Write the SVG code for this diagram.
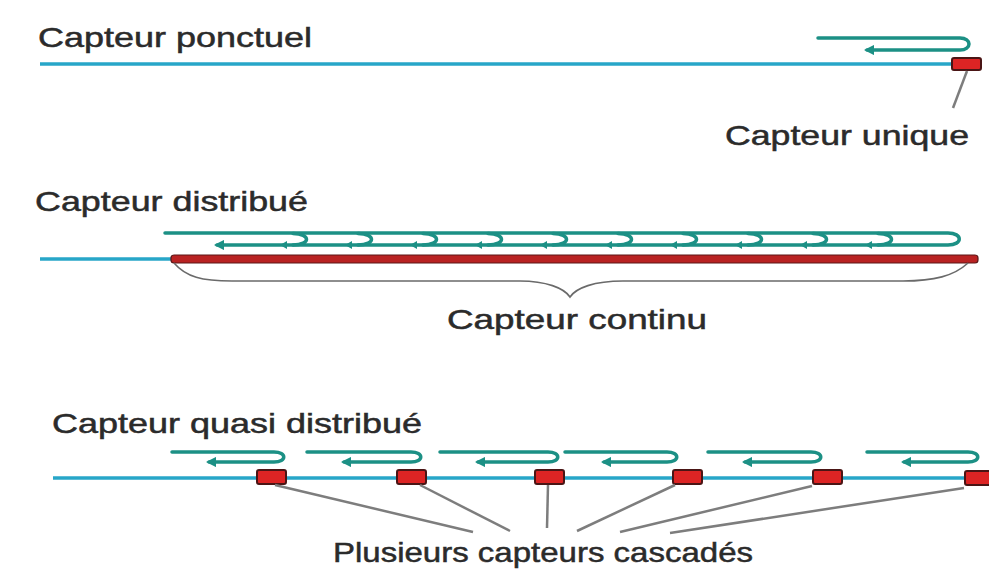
<svg xmlns="http://www.w3.org/2000/svg" width="989" height="570" viewBox="0 0 989 570">
  <defs>
    <style>
      .lbl { font-family: "Liberation Sans", Arial, sans-serif; font-size: 28px; fill: #2b2b2b; stroke: #2b2b2b; stroke-width: 0.5; }
      .fiber { stroke: #27a6c8; stroke-width: 3.5; fill: none; }
      .loop { stroke: #1c9085; stroke-width: 3.5; fill: none; stroke-linecap: round; }
      .lead { stroke: #7d7d7d; stroke-width: 2.5; fill: none; }
      .brace { stroke: #6a6a6a; stroke-width: 1.6; fill: none; }
      .sensor { fill: #dd2424; stroke: #4a1515; stroke-width: 2; }
      .tick { fill: #1c9085; }
    </style>
    <!-- left-pointing head at the end of each return path -->
    <marker id="ah" viewBox="0 0 10 10" refX="7" refY="5" markerWidth="3" markerHeight="3" orient="auto" markerUnits="strokeWidth">
      <path d="M0,0 L10,5 L0,10 Z" fill="#1c9085"/>
    </marker>
  </defs>

  <rect width="989" height="570" fill="#ffffff"/>

  <!-- Point sensor -->
  <g id="ponctuel">
    <text class="lbl" x="38" y="47" textLength="274" lengthAdjust="spacingAndGlyphs">Capteur ponctuel</text>
    <line class="fiber" x1="40" y1="64" x2="954" y2="64"/>
    <path class="loop" d="M818,38 H960 C972,38 972,50 960,50 H867" marker-end="url(#ah)"/>
    <rect class="sensor" x="952" y="58" width="29" height="12" rx="2"/>
  </g>
  <g id="unique">
    <text class="lbl" x="725" y="145" textLength="244" lengthAdjust="spacingAndGlyphs">Capteur unique</text>
  </g>

  <!-- Distributed sensor -->
  <g id="distribue">
    <text class="lbl" x="35" y="211" textLength="273" lengthAdjust="spacingAndGlyphs">Capteur distribué</text>
    <line class="fiber" x1="40" y1="259" x2="174" y2="259"/>
    <path class="loop" d="M165,233 H948 C963,233 963,245 948,245 H217" marker-end="url(#ah)"/>
    <g class="loop">
      <path d="M293,233.5 C311,233.5 311,245 293,245"/>
      <path d="M358,233.5 C376,233.5 376,245 358,245"/>
      <path d="M423,233.5 C441,233.5 441,245 423,245"/>
      <path d="M488,233.5 C506,233.5 506,245 488,245"/>
      <path d="M553,233.5 C571,233.5 571,245 553,245"/>
      <path d="M618,233.5 C636,233.5 636,245 618,245"/>
      <path d="M683,233.5 C701,233.5 701,245 683,245"/>
      <path d="M748,233.5 C766,233.5 766,245 748,245"/>
      <path d="M813,233.5 C831,233.5 831,245 813,245"/>
      <path d="M878,233.5 C896,233.5 896,245 878,245"/>
    </g>
    <g class="tick">
      <path d="M280,245 l7,-4 v8 z"/>
      <path d="M345,245 l7,-4 v8 z"/>
      <path d="M410,245 l7,-4 v8 z"/>
      <path d="M475,245 l7,-4 v8 z"/>
      <path d="M540,245 l7,-4 v8 z"/>
      <path d="M605,245 l7,-4 v8 z"/>
      <path d="M670,245 l7,-4 v8 z"/>
      <path d="M735,245 l7,-4 v8 z"/>
      <path d="M800,245 l7,-4 v8 z"/>
      <path d="M865,245 l7,-4 v8 z"/>
    </g>
    <rect x="171" y="255" width="807" height="8" rx="3" fill="#b92222" stroke="#5c1616" stroke-width="1.2"/>
  </g>
  <g id="continu">
    <path class="brace" d="M174,263 C186,277 202,281 232,281 H520 C546,281 564,288 570,297 C576,288 594,281 623,281 H903 C934,281 954,276 968,263"/>
    <text class="lbl" x="447" y="329" textLength="260" lengthAdjust="spacingAndGlyphs">Capteur continu</text>
  </g>

  <!-- Quasi-distributed sensor -->
  <g id="quasi">
    <text class="lbl" x="52" y="433" textLength="370" lengthAdjust="spacingAndGlyphs">Capteur quasi distribué</text>
    <line class="fiber" x1="53" y1="478" x2="989" y2="478"/>
    <g id="loops">
      <path class="loop" d="M172,452 H274 C287,452 287,462 274,462 H209" marker-end="url(#ah)"/>
      <path class="loop" d="M307,452 H411 C424,452 424,462 411,462 H344" marker-end="url(#ah)"/>
      <path class="loop" d="M440,452 H548 C561,452 561,462 548,462 H478" marker-end="url(#ah)"/>
      <path class="loop" d="M565,452 H667 C680,452 680,462 667,462 H604" marker-end="url(#ah)"/>
      <path class="loop" d="M708,452 H811 C824,452 824,462 811,462 H745" marker-end="url(#ah)"/>
      <path class="loop" d="M867,452 H968 C981,452 981,462 968,462 H904" marker-end="url(#ah)"/>
    </g>
    <g id="sensors">
      <rect class="sensor" x="257" y="470" width="29" height="14" rx="2"/>
      <rect class="sensor" x="397" y="470" width="29" height="14" rx="2"/>
      <rect class="sensor" x="535" y="470" width="29" height="14" rx="2"/>
      <rect class="sensor" x="673" y="470" width="29" height="14" rx="2"/>
      <rect class="sensor" x="813" y="470" width="29" height="14" rx="2"/>
      <rect class="sensor" x="965" y="471" width="29" height="14" rx="2"/>
    </g>
  </g>
  <g id="cascades">
    <text class="lbl" x="333" y="562" textLength="420" lengthAdjust="spacingAndGlyphs">Plusieurs capteurs cascadés</text>
  </g>

  <!-- Leader lines from sensors to their labels -->
  <g id="connectors">
    <line class="lead" x1="967" y1="71" x2="953" y2="108"/>
    <line class="lead" x1="275" y1="485" x2="473" y2="532"/>
    <line class="lead" x1="420" y1="485" x2="510" y2="531"/>
    <line class="lead" x1="548" y1="485" x2="547" y2="528"/>
    <line class="lead" x1="675" y1="485" x2="577" y2="531"/>
    <line class="lead" x1="812" y1="486" x2="620" y2="532"/>
    <line class="lead" x1="964" y1="488" x2="670" y2="533"/>
  </g>
</svg>
